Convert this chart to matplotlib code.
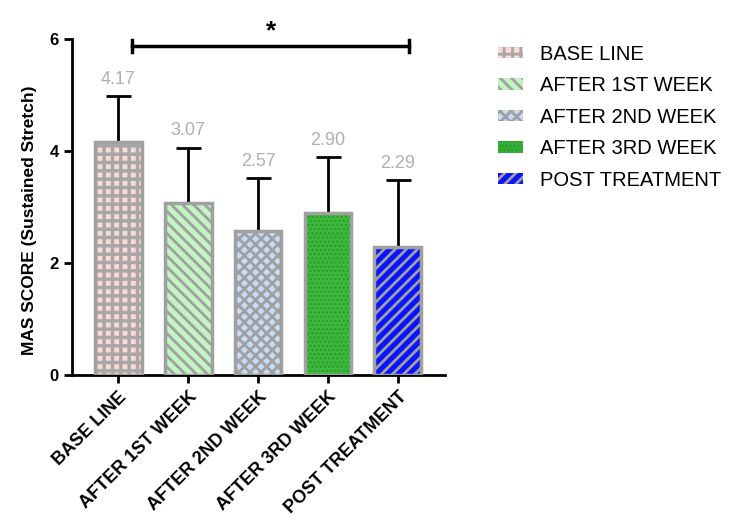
import numpy as np
import matplotlib
matplotlib.use("Agg")
import matplotlib.pyplot as plt
from matplotlib.patches import Patch

plt.rcParams['font.family'] = ['Liberation Sans', 'DejaVu Sans']
plt.rcParams['hatch.linewidth'] = 2.0

# data
groups = ["BASE LINE", "AFTER 1ST WEEK", "AFTER 2ND WEEK", "AFTER 3RD WEEK", "POST TREATMENT"]
means = [4.17, 3.07, 2.57, 2.90, 2.29]
sds = [0.81, 0.99, 0.95, 0.99, 1.19]

# styles
faces = ["#ffd8d8", "#c2f5c2", "#c4dcf6", "#3cb83c", "#0a14ff"]
hatch_cols = ["#a8a8a8", "#a0a0a0", "#a0a0a0", "#2a9a2a", "#a0a0a0"]
hatches = ["++", "\\\\\\", "xxx", "....", "///"]
hatch_lw = [2.5, 2.0, 2.0, 1.0, 2.0]
edge = "#a0a0a0"

fig = plt.figure(figsize=(7.5, 5.29), dpi=100)
ax = fig.add_axes([0.096, 0.291, 0.497, 0.635])

x = np.arange(len(groups))
w = 0.67
for i in range(len(groups)):
    b = ax.bar(x[i], means[i], w, color=faces[i], edgecolor=hatch_cols[i],
               hatch=hatches[i], linewidth=0, zorder=2)
    if hasattr(b[0], 'set_hatch_linewidth'):
        b[0].set_hatch_linewidth(hatch_lw[i])
    ax.bar(x[i], means[i], w, fill=False, edgecolor=edge, linewidth=2.5, zorder=3)
    ax.errorbar(x[i], means[i], yerr=[[0], [sds[i]]], fmt='none', ecolor='black',
                elinewidth=2, capsize=9, capthick=2, zorder=1)
    ax.text(x[i], means[i] + sds[i] + 0.15, f"{means[i]:.2f}", ha='center', va='bottom',
            color="#b0b0b0", fontsize=13)

# significance bracket
ax.plot([0.2, 4.16], [5.88, 5.88], color='black', lw=2.5, clip_on=False)
ax.plot([0.2, 0.2], [5.77, 5.99], color='black', lw=2.5, clip_on=False)
ax.plot([4.16, 4.16], [5.77, 5.99], color='black', lw=2.5, clip_on=False)
ax.text(2.18, 5.93, "*", ha='center', va='bottom', fontsize=19, fontweight='bold', clip_on=False)

ax.set_xlim(-0.66, 4.67)
ax.set_ylim(0, 6)
ax.set_yticks([0, 2, 4, 6])
ax.set_xticks(x)
ax.set_xticklabels(groups, rotation=45, ha='right', rotation_mode='anchor',
                   fontweight='bold', fontsize=13)
for t in ax.get_yticklabels():
    t.set_fontweight('bold')
    t.set_fontsize(12)
ax.set_ylabel("MAS SCORE (Sustained Stretch)", fontweight='bold', fontsize=12.5)
ax.yaxis.set_label_coords(-0.095, 0.46)
for s in ['top', 'right']:
    ax.spines[s].set_visible(False)
for s in ['left', 'bottom']:
    ax.spines[s].set_linewidth(2)
ax.tick_params(width=2, length=6)

handles = [Patch(facecolor=faces[i], edgecolor=hatch_cols[i], hatch=hatches[i], linewidth=0)
           for i in range(len(groups))]
fig.legend(handles, groups, loc='upper left', bbox_to_anchor=(0.64, 0.95), frameon=False,
           fontsize=14.5, handlelength=1.25, handleheight=0.5, labelspacing=0.62,
           handletextpad=0.85)

fig.savefig("out.png", dpi=100)
